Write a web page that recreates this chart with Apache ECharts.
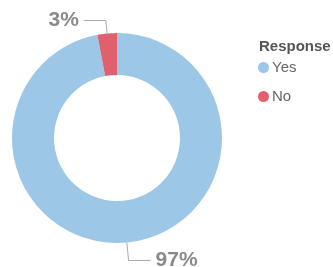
<!DOCTYPE html>
<html>
<head>
<meta charset="utf-8">
<script src="https://cdn.jsdelivr.net/npm/echarts@6/dist/echarts.min.js"></script>
<style>
  html, body { margin: 0; padding: 0; background: #fff; }
  #chart { width: 333px; height: 267px; }
</style>
</head>
<body>
<div id="chart"></div>
<script>
// data
var categories = ['Yes', 'No'];
var values = [97, 3];
var colors = ['#9CC7E6', '#E0606E'];
var lineLengths = [18, 13];

var chart = echarts.init(document.getElementById('chart'));

var pieData = categories.map(function (name, i) {
    return {
        name: name,
        value: values[i],
        itemStyle: { color: colors[i] },
        labelLine: { length: lineLengths[i] }
    };
});

var option = {
    animation: false,
    title: {
        text: 'Response',
        left: 254,
        top: 34,
        textStyle: { fontFamily: 'Liberation Sans', fontSize: 15, fontWeight: 'bold', color: '#555' }
    },
    legend: {
        orient: 'vertical',
        left: 253,
        top: 55,
        icon: 'circle',
        itemWidth: 11,
        itemHeight: 11,
        itemGap: 14,
        data: categories,
        textStyle: { fontFamily: 'Liberation Sans', fontSize: 15, color: '#666', padding: [0, 0, 0, -2] }
    },
    series: [{
        type: 'pie',
        center: [117, 138],
        radius: [63, 105],
        startAngle: 90,
        clockwise: true,
        data: pieData,
        label: {
            show: true,
            formatter: '{c}%',
            fontFamily: 'Liberation Sans',
            fontSize: 21,
            fontWeight: 'bold',
            color: '#8a8a8a'
        },
        labelLine: {
            show: true,
            length2: 22,
            lineStyle: { color: '#aaa', width: 1 }
        }
    }]
};

chart.setOption(option);
window.onresize = function () {
    chart.resize();
};
</script>
</body>
</html>
